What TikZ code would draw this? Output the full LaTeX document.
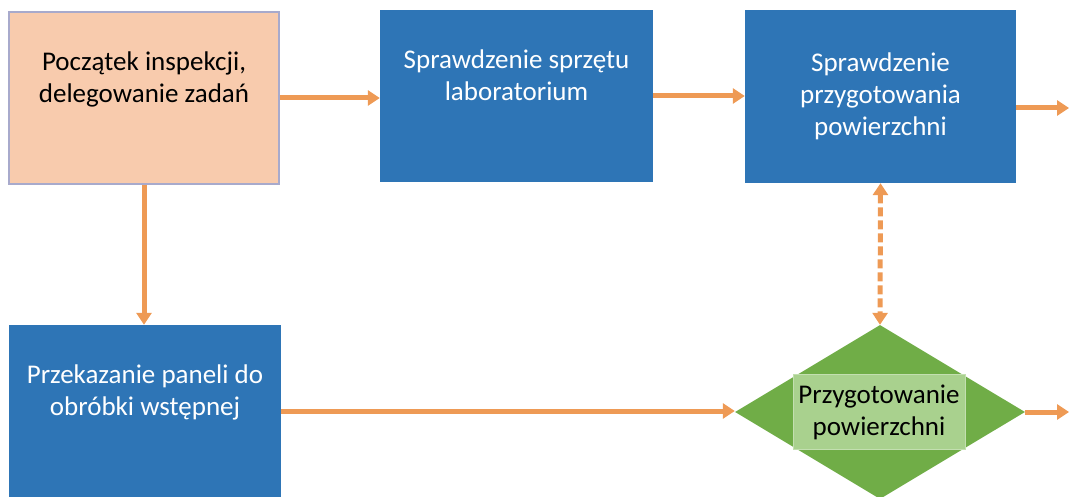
\documentclass[tikz,border=0pt]{standalone}
\usepackage{fontspec}
\setmainfont{Carlito}
\usetikzlibrary{shapes.geometric,arrows.meta}

\definecolor{peach}{HTML}{F8CBAD}
\definecolor{frame}{HTML}{A8AACC}
\definecolor{boxblue}{HTML}{2E75B6}
\definecolor{leaf}{HTML}{70AD47}
\definecolor{leaflight}{HTML}{A9D18E}
\definecolor{flow}{HTML}{EE9A55}

\tikzset{
    box/.style={rectangle, inner sep=0pt, align=center,
        font=\fontsize{27}{32}\selectfont},
    bluebox/.style={box, fill=boxblue, text=white},
    flowline/.style={draw=flow, line width=5pt,
        -{Triangle[length=12pt,width=15pt]}},
}

\begin{document}
\begin{tikzpicture}[x=1pt,y=-1pt]
    \useasboundingbox (0,0) rectangle (1069,497);

    % Bloki
    \node[box, fill=peach, draw=frame, line width=1.5pt,
        minimum width=270pt, minimum height=172pt] (start) at (144,98)
        {Początek inspekcji,\\delegowanie zadań\\ \strut};
    \node[bluebox, minimum width=273pt, minimum height=172pt] (lab) at (516.5,96)
        {Sprawdzenie sprzętu\\laboratorium\\ \strut};
    \node[bluebox, minimum width=271pt, minimum height=173pt] (surf) at (880.5,96.5)
        {Sprawdzenie\\przygotowania\\powierzchni};
    \node[bluebox, minimum width=272pt, minimum height=172pt] (panel) at (145,411)
        {Przekazanie paneli do\\obróbki wstępnej\\ \strut};

    % Decyzja
    \node[diamond, fill=leaf, inner sep=0pt,
        minimum width=290pt, minimum height=174pt] (prep) at (880,412) {};
    \node[box, fill=leaflight, draw=leaflight!70!white, line width=0.8pt,
        minimum width=172pt, minimum height=75pt] (preptxt) at (879,412)
        {Przygotowanie\\powierzchni};

    % Wyjścia poza rysunek
    \coordinate (out1) at (1069,108);
    \coordinate (out2) at (1069,412);

    % Strzałki
    \draw[flowline] (start.east) -- (start.east -| lab.west);
    \draw[flowline] (lab.east) -- (lab.east -| surf.west);
    \draw[flowline] (surf.east |- out1) -- (out1);
    \draw[flowline] (start.south) -- (start.south |- panel.north);
    \draw[flowline] (panel.east) -- (panel.east -| prep.west);
    \draw[flowline] (prep.east) -- (out2);
    \draw[flowline, {Triangle[length=12pt,width=15pt]}-{Triangle[length=12pt,width=15pt]},
        dash pattern=on 9pt off 4pt] (surf.south) -- (prep.north);
\end{tikzpicture}
\end{document}
